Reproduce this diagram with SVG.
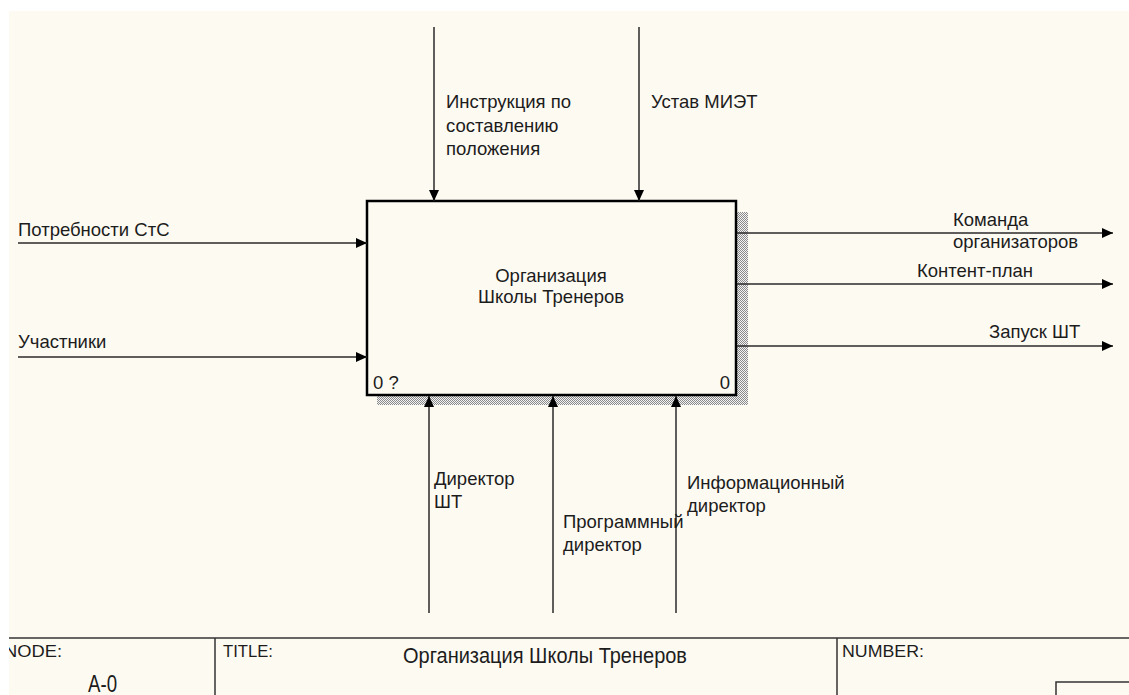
<svg xmlns="http://www.w3.org/2000/svg" width="1129" height="695" viewBox="0 0 1129 695">
<defs>
<style>
.lbl{font-family:"Liberation Sans",Arial,sans-serif;font-size:18.5px;fill:#1c1c1c}
.ftr{font-family:"Liberation Sans",Arial,sans-serif;font-size:17px;fill:#1c1c1c}
.arr{stroke:#2a2a2a;stroke-width:1.5;fill:none;marker-end:url(#ah)}
.frm{stroke:#333;stroke-width:1.5;fill:none}
</style>
<marker id="ah" markerUnits="userSpaceOnUse" markerWidth="12" markerHeight="10" refX="11" refY="5" orient="auto">
<path d="M0,0 L11,5 L0,10 z" fill="#000"/>
</marker>
<pattern id="hatch" width="2" height="2" patternUnits="userSpaceOnUse">
<rect width="2" height="2" fill="#f4f4f4"/>
<rect width="1" height="1" fill="#8a8a8a"/>
<rect x="1" y="1" width="1" height="1" fill="#8a8a8a"/>
</pattern>
</defs>
<rect width="1129" height="695" fill="#fdfaf2"/>
<g id="node-A0">
<rect x="736" y="212" width="12" height="193" fill="url(#hatch)"/>
<rect x="377" y="396" width="371" height="9" fill="url(#hatch)"/>
<rect x="367" y="201" width="369" height="194" fill="#fdfaf2" stroke="#000" stroke-width="2.5"/>
<text class="lbl" x="551" y="282" text-anchor="middle">Организация</text>
<text class="lbl" x="551" y="303" text-anchor="middle">Школы Тренеров</text>
<text class="lbl" x="373" y="389">0 ?</text>
<text class="lbl" x="730" y="389" text-anchor="end">0</text>
</g>
<g id="connectors">
<line class="arr" x1="18" y1="243" x2="367" y2="243"/>
<line class="arr" x1="18" y1="357" x2="367" y2="357"/>
<line class="arr" x1="434" y1="27" x2="434" y2="201"/>
<line class="arr" x1="639" y1="27" x2="639" y2="201"/>
<line class="arr" x1="737" y1="233" x2="1113" y2="233"/>
<line class="arr" x1="737" y1="284" x2="1113" y2="284"/>
<line class="arr" x1="737" y1="346" x2="1113" y2="346"/>
<line class="arr" x1="429" y1="613" x2="429" y2="396"/>
<line class="arr" x1="553" y1="613" x2="553" y2="396"/>
<line class="arr" x1="676" y1="613" x2="676" y2="396"/>
</g>
<g id="labels">
<text class="lbl" x="18" y="236">Потребности СтС</text>
<text class="lbl" x="18" y="348">Участники</text>
<text class="lbl" x="446" y="108">Инструкция по</text>
<text class="lbl" x="446" y="131.5">составлению</text>
<text class="lbl" x="446" y="155">положения</text>
<text class="lbl" x="651" y="108">Устав МИЭТ</text>
<text class="lbl" x="953" y="226">Команда</text>
<text class="lbl" x="953" y="248">организаторов</text>
<text class="lbl" x="917" y="277">Контент-план</text>
<text class="lbl" x="989" y="338">Запуск ШТ</text>
<text class="lbl" x="434" y="485">Директор</text>
<text class="lbl" x="434" y="508">ШТ</text>
<text class="lbl" x="563" y="528">Программный</text>
<text class="lbl" x="563" y="551">директор</text>
<text class="lbl" x="687" y="489">Информационный</text>
<text class="lbl" x="687" y="512">директор</text>
</g>
<g id="footer">
<line class="frm" x1="9" y1="638" x2="1129" y2="638"/>
<line class="frm" x1="215" y1="638" x2="215" y2="695"/>
<line class="frm" x1="837" y1="638" x2="837" y2="695"/>
<rect class="frm" x="1056" y="682" width="80" height="20"/>
<text class="ftr" x="4" y="657" textLength="58" lengthAdjust="spacingAndGlyphs">NODE:</text>
<text class="ftr" x="223" y="657" textLength="50" lengthAdjust="spacingAndGlyphs">TITLE:</text>
<text class="ftr" x="842" y="657" textLength="82" lengthAdjust="spacingAndGlyphs">NUMBER:</text>
<text class="ftr" x="403" y="663" style="font-size:21.5px" textLength="284" lengthAdjust="spacingAndGlyphs">Организация Школы Тренеров</text>
<text class="ftr" x="88" y="692" style="font-size:23px" textLength="29" lengthAdjust="spacingAndGlyphs">A-0</text>
</g>
<rect x="0" y="0" width="1129" height="11" fill="#fff"/>
<rect x="0" y="0" width="9" height="695" fill="#fff"/>
</svg>
